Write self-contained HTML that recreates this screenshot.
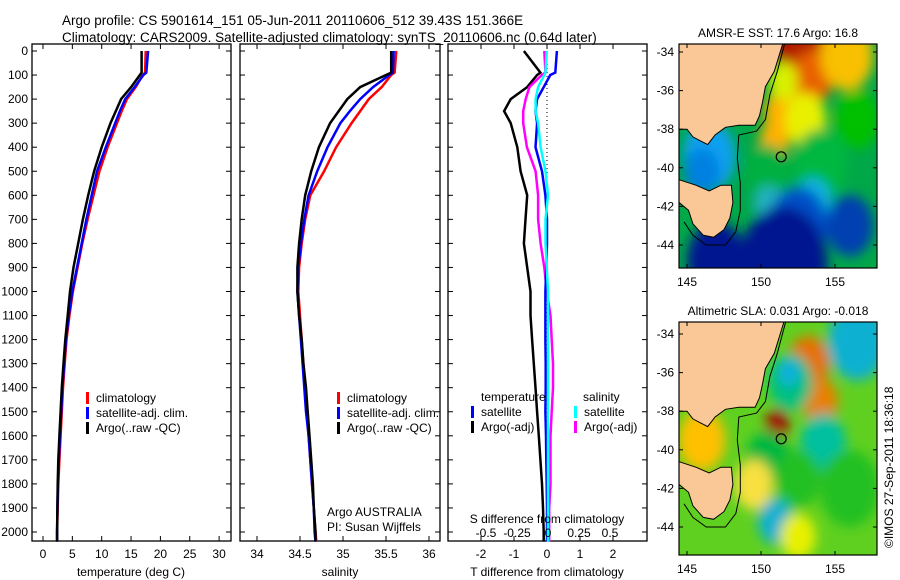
<!DOCTYPE html>
<html><head><meta charset="utf-8"><style>
body{margin:0;background:#fff;}
svg{display:block;font-family:"Liberation Sans",sans-serif;}
text{font-size:12px;fill:#000;}
</style></head><body>
<svg id="c" width="900" height="580" viewBox="0 0 900 580">
<defs>
<filter id="blur" x="-20%" y="-20%" width="140%" height="140%"><feGaussianBlur stdDeviation="6"/></filter>
<clipPath id="clipTop"><rect x="679" y="44" width="198" height="224"/></clipPath>
<clipPath id="clipBot"><rect x="679" y="322" width="198" height="233"/></clipPath>
</defs>
<text x="62" y="25" style="font-size:13.5px">Argo profile: CS 5901614_151 05-Jun-2011 20110606_512 39.43S 151.366E</text>
<text x="62" y="42" style="font-size:13.5px">Climatology: CARS2009. Satellite-adjusted climatology: synTS_20110606.nc (0.64d later)</text>
<g id="g"></g>
</svg>
<script>
// ---- data ----
const depthLevels=[0,90,100,150,200,250,300,400,500,600,700,800,900,1000,1100,1200,1300,1400,1500,1600,1700,1800,1900,2000,2040];
const tempArgo=[16.8,16.8,16.5,15.0,13.3,12.4,11.5,10.0,8.7,7.7,6.8,6.0,5.2,4.6,4.2,3.8,3.5,3.2,3.0,2.8,2.6,2.5,2.45,2.4,2.4];
const tempClim=[17.5,17.4,17.0,15.8,14.3,13.4,12.6,11.0,9.6,8.6,7.6,6.7,5.9,5.1,4.5,4.0,3.7,3.4,3.2,3.0,2.8,2.6,2.5,2.4,2.4];
const tempSat=[17.9,17.6,17.1,15.6,14.0,13.1,12.3,10.7,9.2,8.3,7.4,6.6,5.8,5.0,4.4,3.9,3.6,3.3,3.1,2.9,2.7,2.55,2.45,2.4,2.4];
const salArgo=[35.56,35.56,35.5,35.2,35.05,34.95,34.85,34.72,34.63,34.56,34.52,34.49,34.47,34.47,34.49,34.52,34.54,34.57,34.59,34.61,34.63,34.65,34.66,34.68,34.68];
const salClim=[35.62,35.6,35.56,35.45,35.3,35.2,35.1,34.92,34.78,34.62,34.56,34.52,34.49,34.48,34.5,34.52,34.54,34.56,34.58,34.6,34.62,34.64,34.66,34.68,34.69];
const salSat=[35.59,35.58,35.54,35.35,35.2,35.08,34.97,34.82,34.7,34.6,34.55,34.51,34.48,34.47,34.49,34.51,34.53,34.55,34.57,34.6,34.62,34.64,34.66,34.67,34.68];
const tDiffArgo=[-0.7,-0.2,-0.3,-0.6,-1.1,-1.3,-1.1,-0.9,-0.8,-0.6,-0.65,-0.7,-0.6,-0.5,-0.5,-0.45,-0.4,-0.35,-0.3,-0.25,-0.2,-0.15,-0.12,-0.1,-0.1];
const tDiffSat=[0.3,0.25,0.1,-0.1,-0.3,-0.35,-0.3,-0.35,-0.15,-0.05,0.0,0.0,-0.02,-0.05,-0.05,-0.05,-0.04,-0.04,-0.05,-0.03,-0.02,-0.01,0,0,0];
const sDiffArgo=[-0.03,-0.02,-0.05,-0.15,-0.18,-0.2,-0.2,-0.17,-0.1,-0.08,-0.08,-0.06,-0.03,-0.01,0.02,0.03,0.04,0.04,0.03,0.02,0.02,0.02,0.01,0.01,0.01];
const sDiffSat=[-0.01,-0.02,-0.03,-0.08,-0.1,-0.1,-0.08,-0.06,-0.02,0.0,-0.02,-0.02,-0.01,0,0,0,0,0,0,0,0,0,0,0,0];
const depthTicks=[0,100,200,300,400,500,600,700,800,900,1000,1100,1200,1300,1400,1500,1600,1700,1800,1900,2000];
const tempTicks=[0,5,10,15,20,25,30];
const salTicks=[34,34.5,35,35.5,36];
const tDiffTicks=[-2,-1,0,1,2];
const sDiffTicks=[-0.5,-0.25,0,0.25,0.5];
const lonTicks=[145,150,155];
const latTicks=[-34,-36,-38,-40,-42,-44];

const NS='http://www.w3.org/2000/svg';
const G=document.getElementById('g');
function el(t,a,p){const e=document.createElementNS(NS,t);for(const k in a)e.setAttribute(k,a[k]);(p||G).appendChild(e);return e;}
function txt(x,y,s,anchor,p,size){const e=el('text',{x:x,y:y,'text-anchor':anchor||'start'},p);if(size)e.style.fontSize=size+'px';e.textContent=s;return e;}
const yD=d=>51+d*0.2405;
const TOP=44,BOT=541;

function frame(x0,x1,name){
  const r=el('rect',{x:x0,y:TOP,width:x1-x0,height:BOT-TOP,fill:'none',stroke:'#000','stroke-width':1.3});
  
  
  depthTicks.forEach(d=>{el('line',{x1:x0,x2:x0+5,y1:yD(d),y2:yD(d),stroke:'#000'});el('line',{x1:x1,x2:x1-5,y1:yD(d),y2:yD(d),stroke:'#000'});});
}
function xticks(x0,x1,ticks,fx,labels,y){
  ticks.forEach((t,i)=>{const x=fx(t);el('line',{x1:x,x2:x,y1:BOT,y2:BOT-5,stroke:'#000'});el('line',{x1:x,x2:x,y1:TOP,y2:TOP+5,stroke:'#000'});
    const tl=txt(x,y,labels[i],'middle');});
}
function line(vals,fx,color,name,w){
  const pts=vals.map((v,i)=>fx(v).toFixed(1)+','+yD(depthLevels[i]).toFixed(1)).join(' ');
  const p=el('polyline',{points:pts,fill:'none',stroke:color,'stroke-width':w||2.5});
  
  
}
function legend(x,y,items){
  items.forEach((it,i)=>{el('rect',{x:x,y:y+i*15-10,width:3,height:12,fill:it[1]});const t=txt(x+10,y+i*15,it[0]);
    });
}

// Panel 1 temperature
const xT=t=>43+t*5.87;
frame(32,231,'temperature-panel');
depthTicks.forEach(d=>{const t=txt(28,yD(d)+4,String(d),'end');});
xticks(32,231,tempTicks,xT,tempTicks.map(String),558);
const t1=txt(131,576,'temperature (deg C)','middle');
line(tempClim,xT,'#f00','temp-climatology-line');
line(tempSat,xT,'#00f','temp-satellite-line');
line(tempArgo,xT,'#000','temp-argo-line');
legend(86,402,[['climatology','#f00'],['satellite-adj. clim.','#00f'],['Argo(..raw -QC)','#000']]);

// Panel 2 salinity
const xS=s=>257+(s-34)*86;
frame(240,440,'salinity-panel');
xticks(240,440,salTicks,xS,['34','34.5','35','35.5','36'],558);
const t2=txt(340,576,'salinity','middle');
line(salClim,xS,'#f00','sal-climatology-line');
line(salSat,xS,'#00f','sal-satellite-line');
line(salArgo,xS,'#000','sal-argo-line');
legend(337,402,[['climatology','#f00'],['satellite-adj. clim.','#00f'],['Argo(..raw -QC)','#000']]);
txt(327,516,'Argo AUSTRALIA');txt(327,531,'PI: Susan Wijffels');

// Panel 3 differences
const xTD=v=>547+v*33;
const xSD=v=>548+v*124;
frame(448,647,'difference-panel');
el('line',{x1:xTD(0),x2:xTD(0),y1:TOP,y2:BOT,stroke:'#000','stroke-dasharray':'1,3'});
xticks(448,647,tDiffTicks,xTD,['-2','-1','0','1','2'],558);
const t3=txt(547,576,'T difference from climatology','middle');
line(tDiffArgo,xTD,'#000','tdiff-argo-line');
line(sDiffArgo,xSD,'#f0f','sdiff-argo-line');
line(tDiffSat,xTD,'#00f','tdiff-satellite-line');
line(sDiffSat,xSD,'#0ff','sdiff-satellite-line');
sDiffTicks.forEach((v,i)=>{const t=txt(xSD(v),537,['-0.5','-0.25','0','0.25','0.5'][i],'middle');});
const t4=txt(547,523,'S difference from climatology','middle');
txt(481,401,'temperature');txt(583,401,'salinity');
legend(471,416,[['satellite','#00f'],['Argo(-adj)','#000']]);
legend(574,416,[['satellite','#0ff'],['Argo(-adj)','#f0f']]);

// ---- maps ----
const mainland=[[144,-33],[151.7,-33],[151.3,-34.0],[150.9,-35.0],[150.3,-35.8],[150.1,-36.6],[149.9,-37.3],[149.6,-37.8],[148.5,-37.8],[147.6,-37.9],[146.9,-38.3],[146.4,-38.8],[145.9,-38.6],[145.4,-38.4],[145.0,-38.0],[144,-38.0]];
const tasmania=[[144,-40.5],[144.8,-40.7],[145.6,-40.9],[146.5,-41.2],[147.3,-40.9],[148.0,-40.9],[148.1,-41.8],[147.9,-42.6],[147.5,-43.2],[146.8,-43.6],[146.1,-43.5],[145.4,-42.9],[145.1,-42.2],[144,-41.5]];
const contour=[[151.8,-33],[151.1,-35.0],[150.6,-36.2],[150.3,-37.5],[149.7,-38.1],[148.5,-38.3],[148.4,-39.5],[148.6,-40.8],[148.6,-42.2],[148.3,-43.3],[147.6,-44.0],[146.3,-44.0],[145.4,-43.5],[144.8,-42.8]];
const sstBlobs=[[152.8,-33.6,2,'#b01e00'],[153.5,-35.3,1.4,'#e86000'],[155.8,-34.2,1.8,'#f8c000'],[151.6,-37.2,1.4,'#ffb000'],[150.9,-38.6,1.0,'#ffb000'],[153,-37.5,1.4,'#e8f000'],[151.5,-35.5,1.0,'#d8f000'],[156.5,-37.5,1.5,'#00c000'],[154,-39.8,1.8,'#00b840'],[150.5,-40.3,1.5,'#00b040'],[146.5,-39.4,1.8,'#10a0f0'],[146,-40.2,1.2,'#0080e0'],[153.5,-41.8,1.3,'#10b0e0'],[150.5,-41.9,1.0,'#20b0c0'],[152.5,-43.0,2.0,'#0050c8'],[156,-43,1.6,'#0040b0'],[151.5,-45,3.0,'#001890'],[147,-44.8,2,'#001890']];
const slaBlobs=[[153.2,-35.5,1.4,'#e87000'],[154,-37.5,1.2,'#e88000'],[151.1,-38.7,0.8,'#a00000'],[156.8,-34.4,1.3,'#1050e0'],[156.5,-34.4,2,'#10b0d0'],[152,-36.5,1.5,'#00c080'],[151.9,-36,0.7,'#10b0e0'],[154.4,-39.4,0.7,'#1080e0'],[154.2,-39.6,1.5,'#00c0a0'],[150.5,-40.5,1.5,'#00b840'],[151,-43.7,1.2,'#10b0d0'],[149.5,-41.8,1.3,'#f8e040'],[152.5,-41.5,1.5,'#20c020'],[146,-39.5,1.6,'#ffc000'],[156,-42,2,'#20c020'],[152.5,-44.5,1.2,'#e8f000']];
const argoPos=[151.366,-39.43];

function map(y0,h,lat34y,clip,bg,blobs,title,name){
  const x0=679,w=198;
  const lx=lon=>687+(lon-145)*14.8;
  const ly=lat=>lat34y+(-34-lat)*19.3;
  const g=el('g',{'clip-path':'url(#'+clip+')'});
  
  
  el('rect',{x:x0,y:y0,width:w,height:h,fill:bg},g);
  const bg2=el('g',{filter:'url(#blur)'},g);
  blobs.forEach(b=>el('ellipse',{cx:lx(b[0]),cy:ly(b[1]),rx:b[2]*14.8,ry:b[2]*19.3,fill:b[3]},bg2));
  const pts=a=>a.map(p=>lx(p[0]).toFixed(1)+','+ly(p[1]).toFixed(1)).join(' ');
  el('polyline',{points:pts(contour),fill:'none',stroke:'#000','stroke-width':1},g);
  el('polygon',{points:pts(mainland),fill:'#f9c896',stroke:'#000','stroke-width':1},g);
  el('polygon',{points:pts(tasmania),fill:'#f9c896',stroke:'#000','stroke-width':1},g);
  const c=el('circle',{cx:lx(argoPos[0]),cy:ly(argoPos[1]),r:5,fill:'none',stroke:'#000','stroke-width':1.2},g);
  
  
  el('rect',{x:x0,y:y0,width:w,height:h,fill:'none',stroke:'#000','stroke-width':1.2});
  latTicks.forEach(l=>{const y=ly(l);el('line',{x1:x0,x2:x0+4,y1:y,y2:y,stroke:'#000'});el('line',{x1:x0+w,x2:x0+w-4,y1:y,y2:y,stroke:'#000'});txt(674,y+4,String(l),'end');});
  lonTicks.forEach(l=>{const x=lx(l);el('line',{x1:x,x2:x,y1:y0+h,y2:y0+h-4,stroke:'#000'});el('line',{x1:x,x2:x,y1:y0,y2:y0+4,stroke:'#000'});txt(x,y0+h+18,String(l),'middle');});
  const t=txt(778,y0-7,title,'middle');
}
map(44,224,52,'clipTop','#00a848',sstBlobs,'AMSR-E SST: 17.6 Argo: 16.8','sst-map');
map(322,233,334,'clipBot','#60d020',slaBlobs,'Altimetric SLA: 0.031 Argo: -0.018','sla-map');
const cr=txt(0,0,'©IMOS 27-Sep-2011 18:36:18','start');
cr.setAttribute('transform','translate(893,548) rotate(-90)');


</script>
</body></html>
